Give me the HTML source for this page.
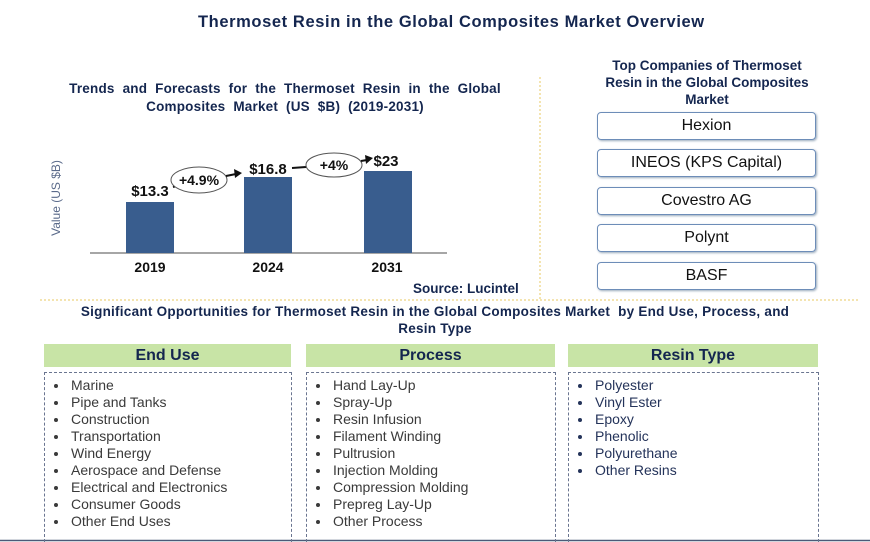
<!DOCTYPE html>
<html><head><meta charset="utf-8"><style>
body{margin:0;width:870px;height:542px;background:#fff;position:relative;overflow:hidden;font-family:"Liberation Sans",Arial,sans-serif}
.a{position:absolute;white-space:nowrap}
.navy{color:#14264f;font-weight:bold}
.comp{position:absolute;left:597px;width:217px;height:26px;border:1.5px solid #6d8db8;border-radius:4px;box-shadow:1px 1px 2px #9ab;text-align:center;line-height:26px;font-size:16px;color:#111}
.hd{position:absolute;top:344px;height:23px;background:#c8e4a6;text-align:center;line-height:23px;font-size:16px;font-weight:bold;color:#14264f}
.bx{position:absolute;top:372px;height:170px;border:1px dashed #6a7590;border-bottom:none;box-sizing:border-box}
.bx ul{margin:0;padding:4px 0 0 24px;font-size:14px;line-height:17px;color:#3a3a3a}
.bx li{padding-left:2px}
</style></head><body>
<div class="a navy" style="left:198px;top:13px;font-size:16.5px;letter-spacing:0.6px">Thermoset Resin in the Global Composites Market Overview</div>

<div class="a navy" style="left:40px;width:490px;top:80px;font-size:13.5px;text-align:center;line-height:18px;word-spacing:4px;letter-spacing:0.2px">Trends and Forecasts for the Thermoset Resin in the Global<br>Composites Market (US $B) (2019-2031)</div>

<svg class="a" style="left:0;top:0" width="870" height="542">
<line x1="540" y1="77" x2="540" y2="300" stroke="#e8c860" stroke-dasharray="2,2"/>
<line x1="40" y1="300" x2="860" y2="300" stroke="#e8c860" stroke-dasharray="2,2"/>
<line x1="90" y1="253" x2="447" y2="253" stroke="#888" stroke-width="1.5"/>
<rect x="126" y="202" width="48" height="51" fill="#395d8e"/>
<rect x="244" y="177" width="48" height="76" fill="#395d8e"/>
<rect x="364" y="171" width="48" height="82" fill="#395d8e"/>
<text x="60" y="198" transform="rotate(-90 60 198)" text-anchor="middle" font-size="12" fill="#5a6a8a" font-family="Liberation Sans">Value (US $B)</text>
<text x="150" y="196" text-anchor="middle" font-size="15" font-weight="bold" fill="#111" font-family="Liberation Sans">$13.3</text>
<text x="268" y="174" text-anchor="middle" font-size="15" font-weight="bold" fill="#111" font-family="Liberation Sans">$16.8</text>
<text x="386" y="166" text-anchor="middle" font-size="15" font-weight="bold" fill="#111" font-family="Liberation Sans">$23</text>
<text x="150" y="272" text-anchor="middle" font-size="14" font-weight="bold" fill="#111" font-family="Liberation Sans">2019</text>
<text x="268" y="272" text-anchor="middle" font-size="14" font-weight="bold" fill="#111" font-family="Liberation Sans">2024</text>
<text x="387" y="272" text-anchor="middle" font-size="14" font-weight="bold" fill="#111" font-family="Liberation Sans">2031</text>
<line x1="173" y1="187" x2="180" y2="185" stroke="#111" stroke-width="2"/>
<ellipse cx="199" cy="180" rx="28" ry="13" fill="#fff" stroke="#555"/>
<text x="199" y="185" text-anchor="middle" font-size="14" font-weight="bold" fill="#111" font-family="Liberation Sans">+4.9%</text>
<line x1="226" y1="176" x2="236" y2="174" stroke="#111" stroke-width="2"/><polygon points="242,173 234,169 235,178" fill="#111"/>
<line x1="292" y1="168" x2="306" y2="167" stroke="#111" stroke-width="2"/>
<ellipse cx="334" cy="165" rx="28" ry="12" fill="#fff" stroke="#555"/>
<text x="334" y="170" text-anchor="middle" font-size="14" font-weight="bold" fill="#111" font-family="Liberation Sans">+4%</text>
<line x1="361" y1="161" x2="367" y2="160" stroke="#111" stroke-width="2"/><polygon points="373,158 365,155 366,164" fill="#111"/>
<line x1="0" y1="540.5" x2="870" y2="540.5" stroke="#4a5a78" stroke-width="1.5"/>
</svg>
<div class="a navy" style="left:413px;top:281px;font-size:13.5px">Source: Lucintel</div>

<div class="a navy" style="left:580px;width:254px;top:57px;font-size:13.5px;text-align:center;line-height:17px">Top Companies of Thermoset<br>Resin in the Global Composites<br>Market</div>
<div class="comp" style="top:112px">Hexion</div>
<div class="comp" style="top:149px">INEOS (KPS Capital)</div>
<div class="comp" style="top:187px">Covestro AG</div>
<div class="comp" style="top:224px">Polynt</div>
<div class="comp" style="top:262px">BASF</div>

<div class="a navy" style="left:40px;width:790px;top:303px;font-size:13.5px;text-align:center;line-height:17px;letter-spacing:0.25px">Significant Opportunities for Thermoset Resin in the Global Composites Market &nbsp;by End Use, Process, and<br>Resin Type</div>

<div class="hd" style="left:44px;width:247px">End Use</div>
<div class="hd" style="left:306px;width:249px">Process</div>
<div class="hd" style="left:568px;width:250px">Resin Type</div>
<div class="bx" style="left:44px;width:248px"><ul><li>Marine</li><li>Pipe and Tanks</li><li>Construction</li><li>Transportation</li><li>Wind Energy</li><li>Aerospace and Defense</li><li>Electrical and Electronics</li><li>Consumer Goods</li><li>Other End Uses</li></ul></div>
<div class="bx" style="left:306px;width:250px"><ul><li>Hand Lay-Up</li><li>Spray-Up</li><li>Resin Infusion</li><li>Filament Winding</li><li>Pultrusion</li><li>Injection Molding</li><li>Compression Molding</li><li>Prepreg Lay-Up</li><li>Other Process</li></ul></div>
<div class="bx" style="left:568px;width:251px"><ul style="color:#24335a"><li>Polyester</li><li>Vinyl Ester</li><li>Epoxy</li><li>Phenolic</li><li>Polyurethane</li><li>Other Resins</li></ul></div>
</body></html>
